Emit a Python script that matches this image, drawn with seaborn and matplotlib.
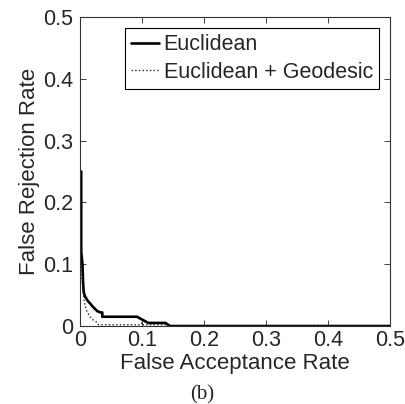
import numpy as np
import pandas as pd
import seaborn as sns
import matplotlib.pyplot as plt

sns.set_style("ticks")
plt.rcParams['font.family'] = ['Liberation Sans', 'DejaVu Sans']

# Euclidean (solid)
far_euc = [0.002, 0.002, 0.004, 0.005, 0.006, 0.008, 0.010, 0.013, 0.016, 0.020,
           0.024, 0.028, 0.033, 0.036, 0.036, 0.092, 0.110, 0.138, 0.145, 0.5]
frr_euc = [0.25, 0.12, 0.10, 0.07, 0.055, 0.048, 0.045, 0.040, 0.037, 0.032,
           0.028, 0.024, 0.022, 0.022, 0.015, 0.015, 0.005, 0.005, 0.0, 0.0]

# Euclidean + Geodesic (dotted)
far_geo = [0.001, 0.002, 0.004, 0.0065, 0.010, 0.016, 0.021, 0.026, 0.030, 0.035,
           0.098, 0.100, 0.102, 0.140, 0.145, 0.5]
frr_geo = [0.12, 0.09, 0.07, 0.042, 0.026, 0.015, 0.010, 0.007, 0.002, 0.002,
           0.002, 0.006, 0.002, 0.002, 0.0, 0.0]

ticks = [0, 0.1, 0.2, 0.3, 0.4, 0.5]
tick_labels = ['0', '0.1', '0.2', '0.3', '0.4', '0.5']

fig = plt.figure(figsize=(4.06, 4.04), dpi=100)
ax = fig.add_axes([0.197, 0.193, 0.764, 0.765])

sns.lineplot(x=far_euc, y=frr_euc, ax=ax, color='k', lw=1.9, sort=False,
             estimator=None, label='Euclidean')
sns.lineplot(x=far_geo, y=frr_geo, ax=ax, color='#222222', lw=1.0, linestyle=':',
             sort=False, estimator=None, label='Euclidean + Geodesic')

ax.set_xlim(0, 0.5)
ax.set_ylim(0, 0.5)
ax.set_xticks(ticks)
ax.set_xticklabels(tick_labels)
ax.set_yticks(ticks)
ax.set_yticklabels(tick_labels)
ax.tick_params(direction='in', top=True, right=True, labelsize=15.5, length=4,
               width=0.6)
ax.tick_params(axis='x', pad=3)
ax.tick_params(axis='y', pad=5)
for s in ax.spines.values():
    s.set_visible(True)
    s.set_linewidth(0.8)
    s.set_color('#333333')

ax.set_xlabel('False Acceptance Rate', fontsize=16, labelpad=1)
ax.set_ylabel('False Rejection Rate', fontsize=16, labelpad=2)

leg = ax.legend(loc='upper right', fontsize=15.5, frameon=True, fancybox=False,
                edgecolor='k', framealpha=1, handlelength=1.3, handletextpad=0.2,
                borderpad=0.3, labelspacing=0.3, borderaxespad=0.5)
leg.get_frame().set_linewidth(0.8)

fig.text(0.497, 0.01, '(b)', fontsize=15, family='Liberation Serif', ha='center')

fig.savefig('out.png', dpi=100)
